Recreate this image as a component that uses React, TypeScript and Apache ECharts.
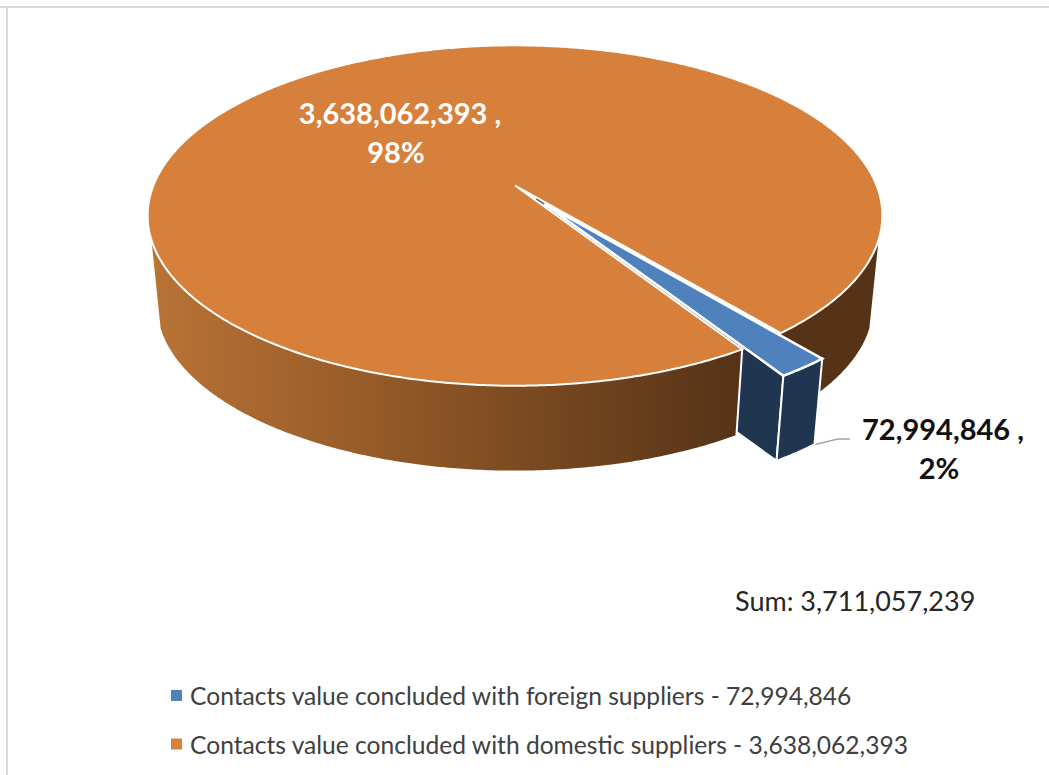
import React, { useEffect, useRef } from "react";
import * as echarts from "echarts";

const seriesNames = [
  "Contacts value concluded with foreign suppliers",
  "Contacts value concluded with domestic suppliers",
];
const seriesValues = [72994846, 3638062393];
const sumLabel = "Sum: 3,711,057,239";
const topColors = ["#4F81BD", "#D7803C"];
const FONT = "Lato, Carlito, Calibri, sans-serif";

const fmt = (n: number) => n.toLocaleString("en-US");
const total = seriesValues[0] + seriesValues[1];
const pct = (n: number) => Math.round((n / total) * 100) + "%";

// projection of the pie disc (perspective)
const CX = 515, CY = 185.5, A = 361.6, B = 164.9, K = 0.1765;
const YV = 3727, S = 0.9746;
const START = 50.6;
const EXPLODE = 0.14;
const EDGE = 18.2;

const rad = (d: number) => (d * Math.PI) / 180;
const proj = (u: number, v: number): [number, number] => {
  const w = 1 - K * v;
  return [CX + (A * u) / w, CY + (B * v) / w];
};
const down = (p: [number, number]): [number, number] => [
  CX + (p[0] - CX) * S,
  YV + (p[1] - YV) * S,
];

function App() {
  const ref = useRef<HTMLDivElement>(null);
  useEffect(() => {
    const chart = echarts.init(ref.current!, null, { renderer: "svg" });
    const span = (seriesValues[0] / total) * 360;
    const a0 = START, a1 = START + span;
    const mid = rad((a0 + a1) / 2);
    const ox = EXPLODE * Math.cos(mid), oy = EXPLODE * Math.sin(mid);

    const rim = (from: number, to: number, dx = 0, dy = 0) => {
      const pts: [number, number][] = [];
      const n = Math.max(2, Math.ceil(Math.abs(to - from) / 0.5));
      for (let i = 0; i <= n; i++) {
        const t = rad(from + ((to - from) * i) / n);
        pts.push(proj(Math.cos(t) + dx, Math.sin(t) + dy));
      }
      return pts;
    };
    const wall = (top: [number, number][]) => [...top, ...top.slice().reverse().map(down)];

    const renderForeign = () => {
      const apex = proj(ox, oy);
      const center = proj(0, 0);
      const edge = rim(a0, a1, ox, oy);
      const last = edge[edge.length - 1];
      const side = { fill: "#1F3550", stroke: "#FFFFFF", lineWidth: 2 };
      return {
        type: "group",
        children: [
          { type: "polygon", z2: 2, shape: { points: wall([apex, last]) }, style: side },
          { type: "polygon", z2: 2, shape: { points: wall(edge) }, style: side },
          {
            type: "polygon",
            z2: 5,
            shape: { points: [apex, ...edge] },
            style: { fill: topColors[0], stroke: "#FFFFFF", lineWidth: 2.5 },
          },
          {
            type: "line",
            z2: 6,
            shape: {
              x1: apex[0] - (apex[0] - center[0]) * 0.3,
              y1: apex[1] - (apex[1] - center[1]) * 0.3,
              x2: apex[0] - 1,
              y2: apex[1] - 0.6,
            },
            style: { stroke: "#6B6B6B", lineWidth: 1.5 },
          },
        ],
      };
    };
    const renderDomestic = () => {
      const center = proj(0, 0);
      const corner = proj(Math.cos(rad(a1)), Math.sin(rad(a1)));
      return {
        type: "group",
        children: [
          {
            type: "polygon",
            z2: 1,
            shape: { points: wall(rim(EDGE, a0)) },
            style: { fill: "#563317" },
          },
          {
            type: "polygon",
            z2: 3,
            shape: { points: wall(rim(a1, 180 - EDGE)) },
            style: {
              fill: {
                type: "linear",
                x: 149,
                y: 0,
                x2: 740,
                y2: 0,
                global: true,
                colorStops: [
                  { offset: 0, color: "#BA7335" },
                  { offset: 0.45, color: "#8E5626" },
                  { offset: 1, color: "#563317" },
                ],
              },
            },
          },
          {
            type: "line",
            z2: 3,
            shape: { x1: corner[0], y1: corner[1], x2: down(corner)[0], y2: down(corner)[1] },
            style: { stroke: "#FFFFFF", lineWidth: 2 },
          },
          {
            type: "polygon",
            z2: 4,
            shape: { points: [center, ...rim(a1, a0 + 360)] },
            style: { fill: topColors[1], stroke: "#FFFFFF", lineWidth: 2 },
          },
        ],
      };
    };

    const text = (t: string, x: number, y: number, size: number, fill: string, weight: any, align = "center") => ({
      type: "text",
      x,
      y,
      z: 10,
      style: {
        text: t,
        fill,
        fontFamily: FONT,
        fontSize: size,
        fontWeight: weight,
        textAlign: align,
        textVerticalAlign: "middle",
      },
    });

    chart.setOption({
      animation: false,
      backgroundColor: "#FFFFFF",
      legend: {
        orient: "vertical",
        left: 166,
        top: 678,
        itemWidth: 11,
        itemHeight: 11,
        itemGap: 23.5,
        icon: "rect",
        textStyle: { fontFamily: FONT, fontSize: 24.6, color: "#404040", padding: [0, 0, 0, 3] },
        data: seriesNames.map((n, i) => n + " - " + fmt(seriesValues[i])),
      },
      series: [
        {
          type: "custom",
          name: seriesNames[0] + " - " + fmt(seriesValues[0]),
          coordinateSystem: "none",
          itemStyle: { color: topColors[0] },
          data: [seriesValues[0]],
          renderItem: renderForeign,
        },
        {
          type: "custom",
          name: seriesNames[1] + " - " + fmt(seriesValues[1]),
          coordinateSystem: "none",
          itemStyle: { color: topColors[1] },
          data: [seriesValues[1]],
          renderItem: renderDomestic,
        },
      ],
      graphic: [
        { type: "rect", shape: { x: 0, y: 6, width: 1049, height: 2 }, style: { fill: "#DADADA" } },
        { type: "rect", shape: { x: 6, y: 6, width: 2, height: 769 }, style: { fill: "#DADADA" } },
        {
          type: "polyline",
          shape: { points: [[796, 449], [838, 439], [850, 439]] },
          style: { stroke: "#A6A6A6", lineWidth: 1.5, fill: "none" },
        },
        text(fmt(seriesValues[1]) + " ,", 400, 112.5, 29, "#FFFFFF", 700),
        text(pct(seriesValues[1]), 396, 151, 29, "#FFFFFF", 700),
        text(fmt(seriesValues[0]) + " ,", 943, 428.5, 29, "#111111", 700),
        text(pct(seriesValues[0]), 939, 467, 29, "#111111", 700),
        text(sumLabel, 735, 600, 27, "#262626", 400, "left"),
      ],
    });
    return () => chart.dispose();
  }, []);
  return (
    <div
      ref={ref}
      style={{ position: "fixed", left: 0, top: 0, width: 1049, height: 775 }}
    />
  );
}

export default App;
